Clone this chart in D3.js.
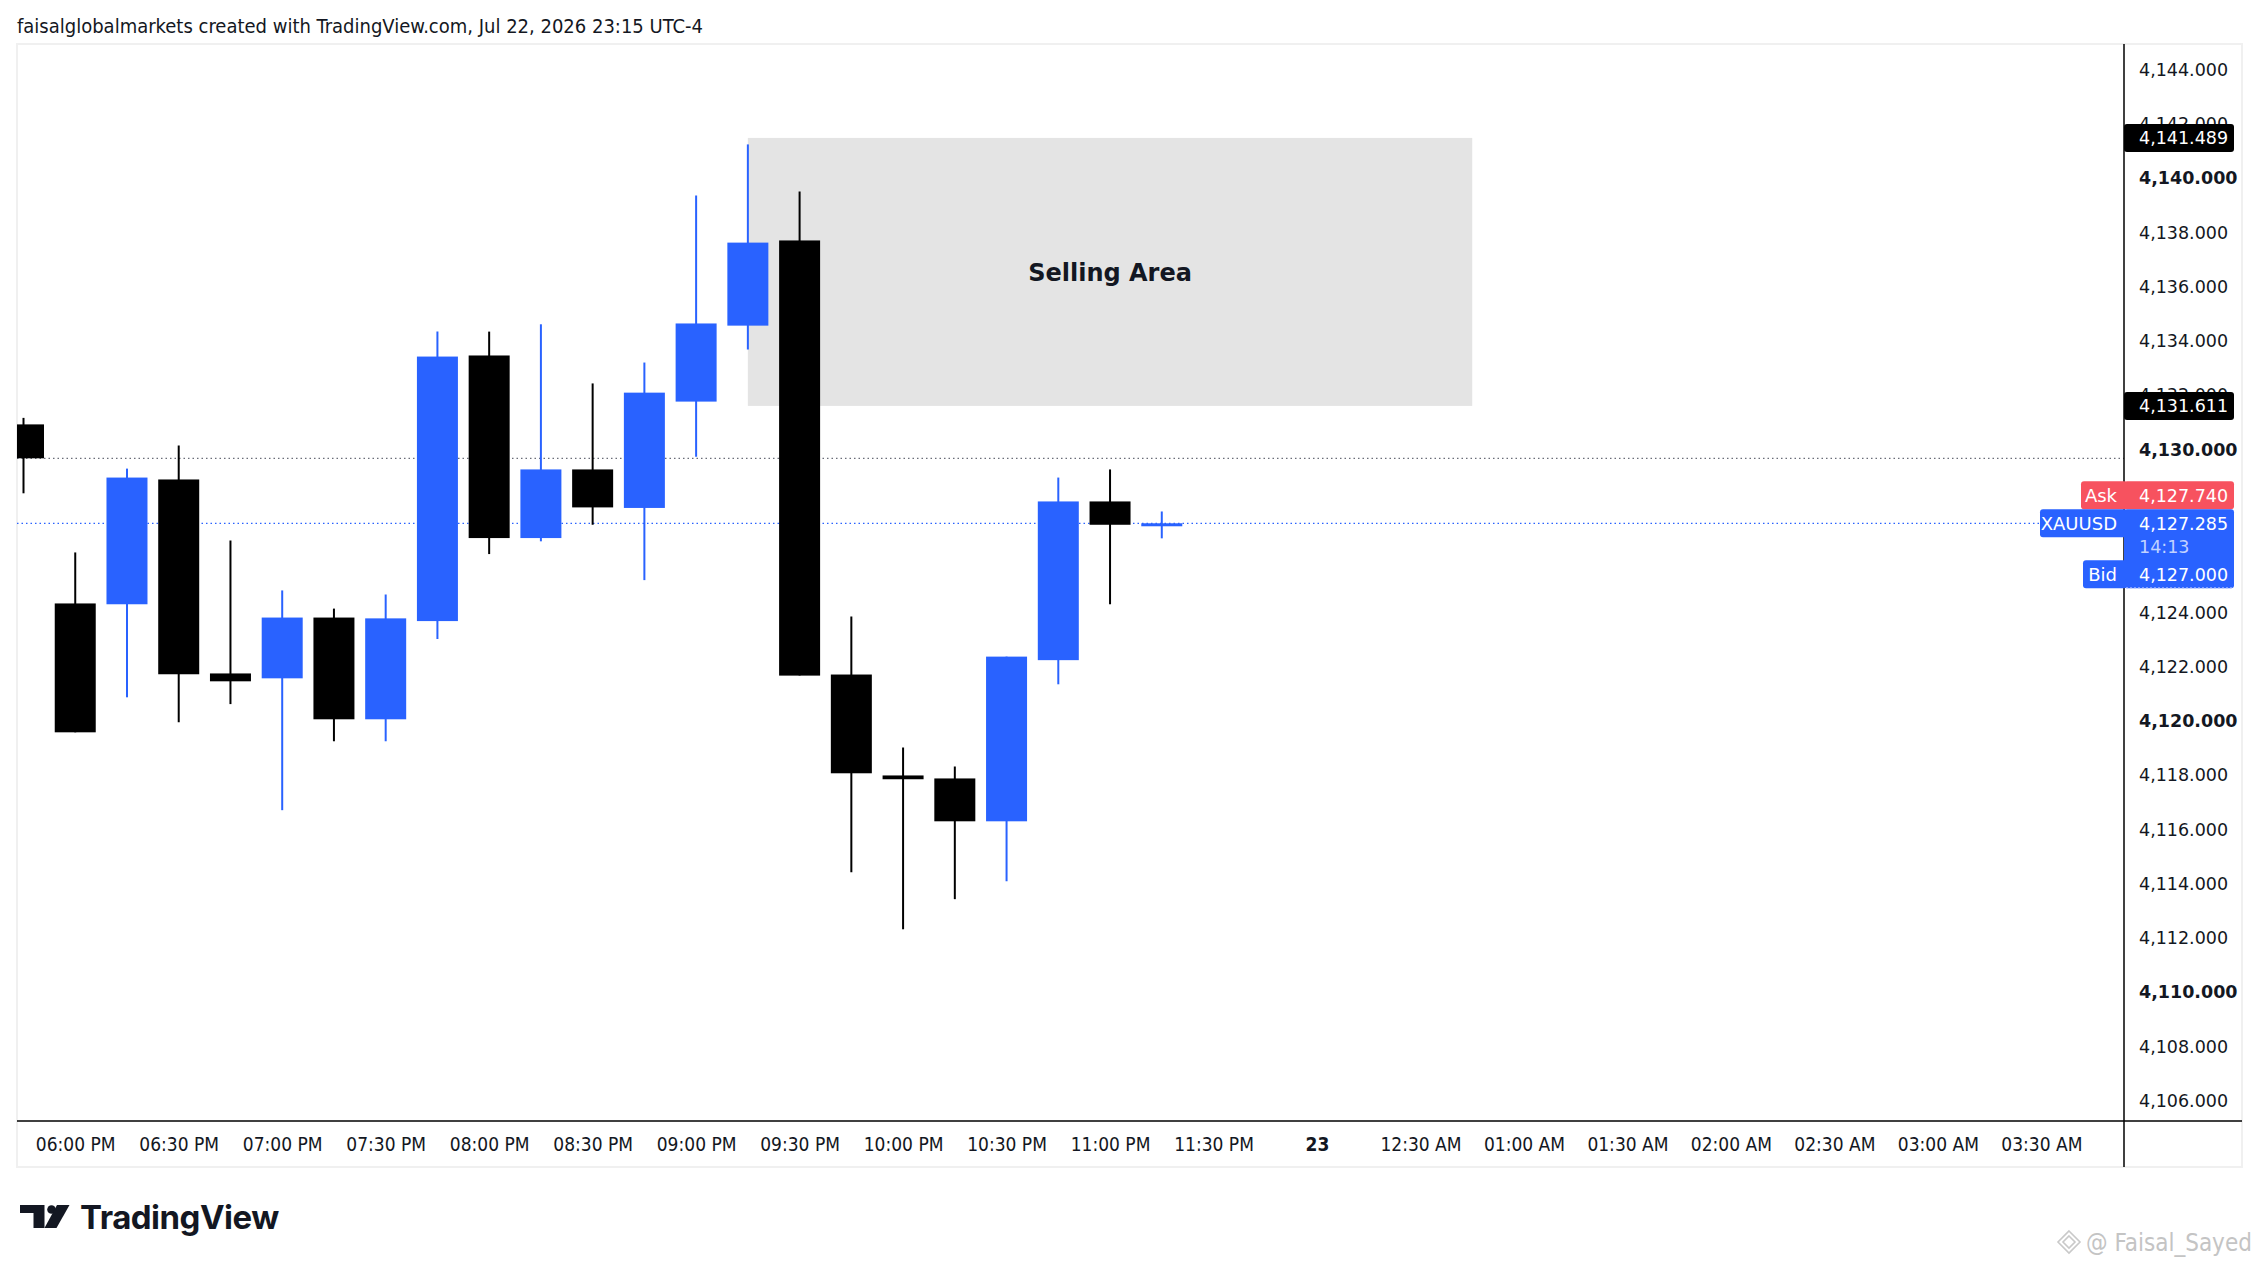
<!DOCTYPE html>
<html>
<head>
<meta charset="utf-8">
<script src="https://cdn.jsdelivr.net/npm/d3@7"></script>
<style>
  html, body { margin: 0; padding: 0; background: #ffffff; }
  svg { display: block; }
  .cond { font-family: "DejaVu Sans Condensed", "DejaVu Sans", sans-serif; font-stretch: condensed; }
  .px { font-family: "DejaVu Sans", Verdana, sans-serif; }
</style>
</head>
<body>
<svg id="chart" width="2259" height="1267"></svg>
<script>
// 15 minute XAUUSD bars, Jul 22 2026 (UTC-4)
const barTimes = ["17:45","18:00","18:15","18:30","18:45","19:00","19:15","19:30","19:45",
  "20:00","20:15","20:30","20:45","21:00","21:15","21:30","21:45","22:00","22:15",
  "22:30","22:45","23:00","23:15"];
const opens  = [4130.93,4124.33,4124.30,4128.90,4121.75,4121.57,4123.81,4120.06,4123.68,
  4133.47,4126.74,4129.27,4127.85,4131.77,4134.57,4137.71,4121.71,4117.99,4117.88,
  4116.30,4122.24,4128.09,4127.20];
const highs  = [4131.17,4126.21,4129.30,4130.15,4126.65,4124.81,4124.14,4124.66,4134.35,
  4134.35,4134.62,4132.44,4133.21,4139.37,4141.25,4139.51,4123.85,4119.02,4118.32,
  4122.37,4128.97,4129.27,4127.72];
const lows   = [4128.39,4119.58,4120.87,4119.95,4120.62,4116.71,4119.25,4119.25,4123.02,
  4126.15,4126.62,4127.23,4125.19,4129.74,4133.69,4121.67,4114.42,4112.32,4113.43,
  4114.09,4121.35,4124.30,4126.73];
const closes = [4129.68,4119.58,4128.97,4121.72,4121.46,4123.81,4120.06,4123.78,4133.43,
  4126.74,4129.27,4127.87,4132.10,4134.65,4137.63,4121.67,4118.07,4117.85,4116.30,
  4122.37,4128.09,4127.23,4127.285];

// 4,126 and 4,128 sit under the price labels, so they are not shown
const priceTicks = [4106,4108,4110,4112,4114,4116,4118,4120,4122,4124,
  4130,4132,4134,4136,4138,4140,4142,4144];
const timeTicks = ["2026-07-22 18:00","2026-07-22 18:30","2026-07-22 19:00","2026-07-22 19:30",
  "2026-07-22 20:00","2026-07-22 20:30","2026-07-22 21:00","2026-07-22 21:30",
  "2026-07-22 22:00","2026-07-22 22:30","2026-07-22 23:00","2026-07-22 23:30",
  "2026-07-23 00:00","2026-07-23 00:30","2026-07-23 01:00","2026-07-23 01:30",
  "2026-07-23 02:00","2026-07-23 02:30","2026-07-23 03:00","2026-07-23 03:30"];

// selling zone drawn on chart
const zoneStart = "2026-07-22 21:15";
const zoneEnd = "2026-07-23 00:45";
const zoneTop = 4141.489;
const zoneBottom = 4131.611;
const zoneLabel = "Selling Area";

const lastPrice = 4127.285;
const askPrice = 4127.740;
const bidPrice = 4127.000;
const prevClose = 4129.68;
const countdown = "14:13";
const symbol = "XAUUSD";

const parseT = d3.timeParse("%Y-%m-%d %H:%M");
const bars = barTimes.map((t, i) => ({
  time: parseT((t < "12:00" ? "2026-07-23 " : "2026-07-22 ") + t),
  open: opens[i], high: highs[i], low: lows[i], close: closes[i]
}));

const width = 2259, height = 1267;
const plot = { left: 17, right: 2124, top: 44, bottom: 1121 };
const frameRight = 2242, frameBottom = 1167;
const blue = "#2962ff", red = "#f7525f", ink = "#131722";

const barW = 51.74;
const x = d3.scaleTime()
  .domain([parseT("2026-07-22 17:45"), parseT("2026-07-23 04:00")])
  .range([23.5, 23.5 + 41 * barW]);

const y = d3.scaleLinear()
  .domain([4106, 4144])
  .range([69.8 + 38 * 27.13, 69.8]);

const svg = d3.select("#chart");

svg.append("rect").attr("width", width).attr("height", height).attr("fill", "#ffffff");

// header
svg.append("text")
  .attr("class", "cond")
  .attr("x", 17).attr("y", 33)
  .attr("fill", ink)
  .style("font-size", "20px")
  .text("faisalglobalmarkets created with TradingView.com, Jul 22, 2026 23:15 UTC-4");

// frame
svg.append("rect")
  .attr("x", plot.left).attr("y", plot.top)
  .attr("width", frameRight - plot.left).attr("height", frameBottom - plot.top)
  .attr("fill", "none").attr("stroke", "#f0f0f0").attr("stroke-width", 2);

svg.append("clipPath").attr("id", "plotClip")
  .append("rect")
  .attr("x", plot.left).attr("y", plot.top)
  .attr("width", plot.right - plot.left).attr("height", plot.bottom - plot.top);

const g = svg.append("g").attr("clip-path", "url(#plotClip)");

// selling zone
g.append("rect")
  .attr("x", x(parseT(zoneStart)))
  .attr("y", y(zoneTop))
  .attr("width", x(parseT(zoneEnd)) - x(parseT(zoneStart)))
  .attr("height", y(zoneBottom) - y(zoneTop))
  .attr("fill", "#e4e4e4");

g.append("text")
  .attr("class", "px")
  .attr("x", (x(parseT(zoneStart)) + x(parseT(zoneEnd))) / 2)
  .attr("y", (y(zoneTop) + y(zoneBottom)) / 2)
  .attr("dy", "0.36em")
  .attr("text-anchor", "middle")
  .attr("fill", ink)
  .style("font-size", "24px")
  .style("font-weight", "bold")
  .text(zoneLabel);

// dotted price lines
g.append("line")
  .attr("x1", plot.left).attr("x2", plot.right)
  .attr("y1", y(prevClose)).attr("y2", y(prevClose))
  .attr("stroke", "#6a6d78").attr("stroke-width", 1.2)
  .attr("stroke-dasharray", "1.5,3");

g.append("line")
  .attr("x1", plot.left).attr("x2", plot.right)
  .attr("y1", y(lastPrice)).attr("y2", y(lastPrice))
  .attr("stroke", blue).attr("stroke-width", 1.2)
  .attr("stroke-dasharray", "1.5,3");

// candles
const colorOf = d => d.close >= d.open ? blue : "#000000";

g.selectAll("line.wick")
  .data(bars)
  .enter()
  .append("line")
    .attr("class", "wick")
    .attr("x1", d => x(d.time)).attr("x2", d => x(d.time))
    .attr("y1", d => y(d.high)).attr("y2", d => y(d.low))
    .attr("stroke", colorOf)
    .attr("stroke-width", 2);

g.selectAll("rect.body")
  .data(bars)
  .enter()
  .append("rect")
    .attr("class", "body")
    .attr("x", d => x(d.time) - 20.5)
    .attr("width", 41)
    .attr("y", d => Math.min(y(d.open), y(d.close)))
    .attr("height", d => Math.max(3, Math.abs(y(d.open) - y(d.close))))
    .attr("fill", colorOf);

// time axis
const fmtTime = d3.timeFormat("%I:%M %p");
const fmtDay = d3.timeFormat("%-d");
const isDay = d => d.getHours() === 0 && d.getMinutes() === 0;

const xAxis = svg.append("g")
  .attr("class", "axis x cond")
  .attr("transform", `translate(0,${plot.bottom})`)
  .call(d3.axisBottom(x)
    .tickValues(timeTicks.map(parseT))
    .tickSize(0)
    .tickPadding(17)
    .tickFormat(d => isDay(d) ? fmtDay(d) : fmtTime(d)));

xAxis.select(".domain").remove();
xAxis.selectAll("text")
  .attr("fill", ink)
  .style("font-size", "19px")
  .style("font-family", "'DejaVu Sans Condensed', 'DejaVu Sans', sans-serif")
  .style("font-weight", d => isDay(d) ? "bold" : "normal");

svg.append("line")
  .attr("x1", plot.left).attr("x2", frameRight)
  .attr("y1", plot.bottom).attr("y2", plot.bottom)
  .attr("stroke", "#000000").attr("stroke-width", 1.5);

// price axis
const yAxis = svg.append("g")
  .attr("class", "axis y")
  .attr("transform", `translate(${plot.right},0)`)
  .call(d3.axisRight(y)
    .tickValues(priceTicks)
    .tickSize(0)
    .tickPadding(15)
    .tickFormat(d3.format(",.3f")));

yAxis.select(".domain").remove();
yAxis.selectAll("text")
  .attr("fill", ink)
  .style("font-size", "17.5px")
  .style("font-family", "'DejaVu Sans', Verdana, sans-serif")
  .style("font-weight", d => d % 10 === 0 ? "bold" : "normal");

svg.append("line")
  .attr("x1", plot.right).attr("x2", plot.right)
  .attr("y1", plot.top).attr("y2", frameBottom)
  .attr("stroke", "#000000").attr("stroke-width", 1.5);

// price labels on the axis
const fmtPrice = d3.format(",.3f");
const labelW = 110, labelH = 28;

function axisBox(top, h, fill) {
  svg.append("rect")
    .attr("x", plot.right).attr("y", top)
    .attr("width", labelW).attr("height", h)
    .attr("rx", 3)
    .attr("fill", fill);
}
function axisText(cy, txt, fill) {
  svg.append("text")
    .attr("class", "px")
    .attr("x", plot.right + 15).attr("y", cy)
    .attr("dy", "0.36em")
    .attr("fill", fill)
    .style("font-size", "17.5px")
    .text(txt);
}
function tag(top, w, fill, txt) {
  svg.append("rect")
    .attr("x", plot.right - w).attr("y", top)
    .attr("width", w + 3).attr("height", labelH)
    .attr("rx", 3)
    .attr("fill", fill);
  svg.append("text")
    .attr("class", "px")
    .attr("x", plot.right - 7).attr("y", top + labelH / 2)
    .attr("dy", "0.36em")
    .attr("text-anchor", "end")
    .attr("fill", "#ffffff")
    .style("font-size", "18px")
    .text(txt);
}

[zoneTop, zoneBottom].forEach(v => {
  axisBox(y(v) - labelH / 2, labelH, "#000000");
  axisText(y(v), fmtPrice(v), "#ffffff");
});

const mainTop = y(lastPrice) - labelH / 2;
const mainH = 51;

// ask above, last price with countdown, bid below
tag(mainTop - labelH, 43, red, "Ask");
tag(mainTop, 84, blue, symbol);
tag(mainTop + mainH, 41, blue, "Bid");

axisBox(mainTop - labelH, labelH, red);
axisText(mainTop - labelH / 2, fmtPrice(askPrice), "#ffffff");

axisBox(mainTop, mainH + labelH, blue);
axisText(y(lastPrice), fmtPrice(lastPrice), "#ffffff");
axisText(y(lastPrice) + 23, countdown, "rgba(255,255,255,0.72)");
svg.append("line")
  .attr("x1", plot.right + 2).attr("x2", plot.right + labelW - 2)
  .attr("y1", mainTop + mainH + labelH - 0.5).attr("y2", mainTop + mainH + labelH - 0.5)
  .attr("stroke", "#9db5ff").attr("stroke-width", 1)
  .attr("stroke-dasharray", "2,2");
axisText(mainTop + mainH + labelH / 2, fmtPrice(bidPrice), "#ffffff");

// TradingView logo
const logo = svg.append("g").attr("fill", ink);
logo.append("path").attr("d", "M20,1205 H44.5 V1228 H33.5 V1213 H20 Z");
logo.append("circle").attr("cx", 51.5).attr("cy", 1209.5).attr("r", 4.3);
logo.append("path").attr("d", "M57,1205 H69.5 L56.5,1228 H44.5 Z");
logo.append("text")
  .attr("x", 80).attr("y", 1229)
  .attr("fill", ink)
  .style("font-family", "Inter, Lato, 'Noto Sans', sans-serif")
  .style("font-weight", "bold")
  .style("font-size", "33px")
  .style("letter-spacing", "-0.5px")
  .text("TradingView");

// watermark
const wm = svg.append("g").attr("fill", "none").attr("stroke", "#c9c9c9").attr("stroke-width", 1.6);
wm.append("path").attr("d", "M2069,1231 L2080,1242 L2069,1253 L2058,1242 Z");
wm.append("path").attr("d", "M2069,1236 L2075,1242 L2069,1248 L2063,1242 Z");
svg.append("text")
  .attr("class", "cond")
  .attr("x", 2086).attr("y", 1251)
  .attr("fill", "#c4c4c4")
  .style("font-size", "24px")
  .text("@ Faisal_Sayed");
</script>
</body>
</html>
